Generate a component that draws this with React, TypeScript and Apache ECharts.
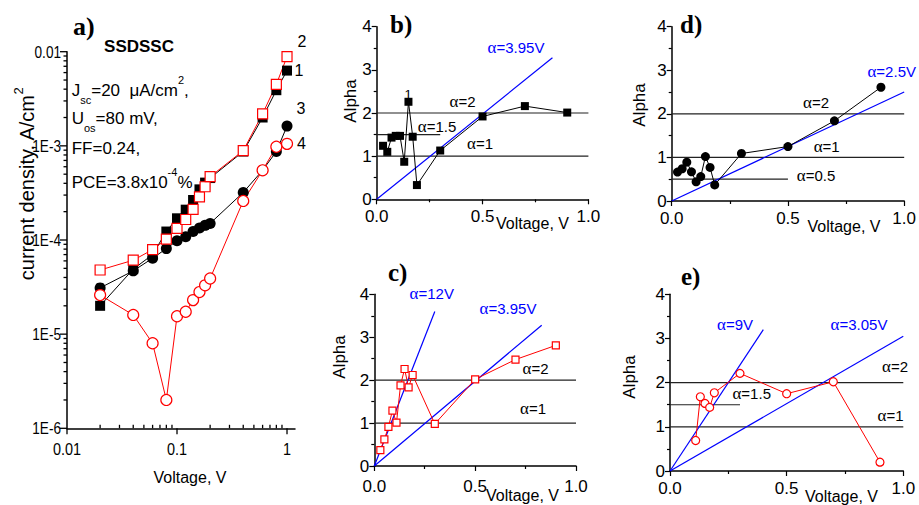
import React, { useEffect, useRef } from "react";
import * as echarts from "echarts";

// ---------- Panel a: J-V curves (log-log) ----------
const voltA = [0.02, 0.04, 0.06, 0.08, 0.1, 0.12, 0.14, 0.16, 0.18, 0.2, 0.4, 0.6, 0.8, 1.0];
const curve1 = [2.0e-5, 4.9e-5, 7.0e-5, 1.23e-4, 1.7e-4, 2.1e-4, 2.66e-4, 3.45e-4, 4.07e-4, 4.55e-4, 8.7e-4, 2.0e-3, 3.9e-3, 6.3e-3];
const curve2 = [4.8e-5, 6.1e-5, 7.9e-5, 1.02e-4, 1.33e-4, 1.65e-4, 2.12e-4, 2.87e-4, 3.68e-4, 4.7e-4, 8.9e-4, 2.19e-3, 4.5e-3, 8.85e-3];
const curve3 = [3.1e-5, 4.7e-5, 6.4e-5, 8.1e-5, 9.8e-5, 1.08e-4, 1.23e-4, 1.34e-4, 1.43e-4, 1.5e-4, 3.2e-4, 5.5e-4, 8.7e-4, 1.62e-3];
const curve4 = [2.6e-5, 1.6e-5, 8.0e-6, 2.0e-6, 1.55e-5, 1.73e-5, 2.3e-5, 2.8e-5, 3.3e-5, 3.9e-5, 2.6e-4, 5.5e-4, 9.8e-4, 1.05e-3];

const xMajorA = [0.01, 0.1, 1];
const xMajorLabelsA = ["0.01", "0.1", "1"];
const xMinorA = [0.02, 0.03, 0.04, 0.05, 0.06, 0.07, 0.08, 0.09, 0.2, 0.3, 0.4, 0.5, 0.6, 0.7, 0.8, 0.9];
const yMajorA = [1e-6, 1e-5, 1e-4, 1e-3, 1e-2];
const yMajorLabelsA = ["1E-6", "1E-5", "1E-4", "1E-3", "0.01"];
const yDecadesA = [1e-6, 1e-5, 1e-4, 1e-3];
const yMinorSteps = [2, 3, 4, 5, 6, 7, 8, 9];
const xRangeA = [0.01, 1.182];
const yRangeA = [1e-6, 0.01];

// ---------- Panels b-e: Alpha vs Voltage ----------
const voltBC = [0.03, 0.05, 0.07, 0.09, 0.11, 0.13, 0.15, 0.17, 0.19, 0.3, 0.5, 0.7, 0.9];
const alphaB = [1.24, 1.1, 1.43, 1.47, 1.47, 0.87, 2.26, 1.45, 0.33, 1.13, 1.92, 2.16, 2.01];
const alphaC = [0.37, 0.62, 0.91, 1.29, 1.01, 1.88, 2.26, 1.83, 2.12, 0.98, 2.02, 2.48, 2.81];
const voltD = [0.025, 0.045, 0.065, 0.085, 0.105, 0.125, 0.145, 0.165, 0.185, 0.3, 0.5, 0.7, 0.9];
const alphaD = [0.665, 0.74, 0.89, 0.67, 0.44, 0.56, 1.02, 0.77, 0.37, 1.09, 1.25, 1.84, 2.61];
const voltE = [0.11, 0.13, 0.15, 0.17, 0.19, 0.3, 0.5, 0.7, 0.9];
const alphaE = [0.69, 1.68, 1.53, 1.44, 1.77, 2.21, 1.75, 2.02, 0.2];

// linear fits (alpha = k*V) drawn as segments [V, alpha]
const fitB = [[0, 0], [0.83, 3.28]];
const fitC1 = [[0, 0], [0.3, 3.6]];
const fitC2 = [[0, 0], [0.83, 3.28]];
const fitD = [[0, 0], [1.0, 2.5]];
const fitE1 = [[0, 0], [0.4, 3.2]];
const fitE2 = [[0, 0], [1.0, 3.05]];

// horizontal alpha levels: [alpha, V end]
const levelsB = [[2, 1.0], [1, 1.0], [1.5, 0.3]];
const levelsC = [[2, 1.0], [1, 1.0]];
const levelsD = [[2, 1.0], [1, 1.0], [0.5, 0.5]];
const levelsE = [[2, 1.0], [1, 1.0], [1.5, 0.3]];

const FONT = "'Liberation Sans', Arial, Helvetica, sans-serif";
const SERIF = "'Liberation Serif', 'Times New Roman', serif";
const RED = "#ff0000";
const BLUE = "#0000ff";

const GRID_A = { left: 67, top: 51.7, width: 228, height: 376.6 };

const pairs = (xs: number[], ys: number[]) => xs.map((x, i) => [x, ys[i]]);

function txt(x: number, y: number, text: string, size: number, o: any = {}) {
  return {
    type: "text",
    x,
    y,
    rotation: o.rotation || 0,
    scaleX: o.scaleX || 1,
    z: 100,
    style: {
      text,
      fill: o.color || "#000",
      fontSize: size,
      fontFamily: o.family || FONT,
      fontWeight: o.weight || "normal",
      align: o.align || "center",
      verticalAlign: "middle",
      rich: o.rich,
    },
  };
}

function alphaLabel(x: number, y: number, rest: string, color = "#000") {
  return txt(x, y, `{g|α}{m|${rest}}`, 15, {
    color,
    rich: {
      g: { fontFamily: SERIF, fontSize: 17, fill: color },
      m: { fontFamily: FONT, fontSize: 15, fill: color },
    },
  });
}

const annotRich = {
  m: { fontFamily: FONT, fontSize: 17, fill: "#000", lineHeight: 31, verticalAlign: "middle" },
  sub: { fontFamily: FONT, fontSize: 11, fill: "#000", lineHeight: 9, verticalAlign: "bottom" },
  sup: { fontFamily: FONT, fontSize: 11, fill: "#000", lineHeight: 20, verticalAlign: "top" },
  sup2: { fontFamily: FONT, fontSize: 11, fill: "#000", lineHeight: 14, verticalAlign: "top" },
};

function valueAxisX(gridIndex: number, margin: number) {
  return {
    type: "value",
    gridIndex,
    min: 0,
    max: 1,
    interval: 0.5,
    axisLine: { show: true, lineStyle: { color: "#000", width: 1.5 } },
    axisTick: { show: true, length: 5, lineStyle: { color: "#000", width: 1.2 } },
    minorTick: { show: true, splitNumber: 2, length: 3, lineStyle: { color: "#000", width: 1.2 } },
    axisLabel: { color: "#000", fontSize: 17, fontFamily: FONT, margin, formatter: (v: number) => v.toFixed(1) },
    splitLine: { show: false },
  };
}

function valueAxisY(gridIndex: number) {
  return {
    type: "value",
    gridIndex,
    min: 0,
    max: 4,
    interval: 1,
    axisLine: { show: true, lineStyle: { color: "#000", width: 1.5 } },
    axisTick: { show: true, length: 5, lineStyle: { color: "#000", width: 1.2 } },
    minorTick: { show: true, splitNumber: 2, length: 3, lineStyle: { color: "#000", width: 1.2 } },
    axisLabel: { color: "#000", fontSize: 17, fontFamily: FONT, margin: 5 },
    splitLine: { show: false },
  };
}

function levelSeries(idx: number, levels: number[][]) {
  return levels.map((l) => ({
    type: "line",
    xAxisIndex: idx,
    yAxisIndex: idx,
    data: [[0, l[0]], [l[1], l[0]]],
    symbol: "none",
    lineStyle: { color: "#222", width: 1.2 },
    silent: true,
    z: 1,
  }));
}

function fitSeries(idx: number, fit: number[][]) {
  return {
    type: "line",
    xAxisIndex: idx,
    yAxisIndex: idx,
    data: fit,
    symbol: "none",
    lineStyle: { color: BLUE, width: 1.2 },
    silent: true,
    z: 2,
  };
}

function dataSeries(idx: number, data: number[][], symbol: string, size: number, filled: boolean, color: string) {
  return {
    type: "line",
    xAxisIndex: idx,
    yAxisIndex: idx,
    data,
    symbol,
    symbolSize: size,
    showSymbol: true,
    lineStyle: { color, width: 1 },
    itemStyle: filled ? { color } : { color: "#fff", borderColor: color, borderWidth: 1.2 },
    z: 3,
  };
}

export default function App() {
  const ref = useRef<HTMLDivElement>(null);
  useEffect(() => {
    if (!ref.current) return;
    const chart = echarts.init(ref.current, null, { renderer: "svg" });
    const yMinA = yMajorA[0];
    const xMinA = xMajorA[0];
    const yMinorA: number[] = [];
    yDecadesA.forEach((d) => yMinorSteps.forEach((m) => yMinorA.push(m * d)));

    const option: any = {
      animation: false,
      backgroundColor: "#fff",
      textStyle: { fontFamily: FONT },
      grid: [
        GRID_A,
        { left: 376.7, top: 26.7, width: 211.7, height: 172.6 },
        { left: 374.3, top: 294.3, width: 201.7, height: 171.7 },
        { left: 671.7, top: 26.7, width: 235, height: 174.3 },
        { left: 670, top: 294.3, width: 233.3, height: 176.7 },
      ],
      xAxis: [
        {
          type: "log",
          logBase: 10,
          gridIndex: 0,
          min: xRangeA[0],
          max: xRangeA[1],
          axisLine: { show: true, lineStyle: { color: "#000", width: 1.5 } },
          axisTick: { show: false },
          minorTick: { show: false },
          splitLine: { show: false },
          axisLabel: { show: false },
        },
        valueAxisX(1, 9),
        valueAxisX(2, 12),
        valueAxisX(3, 9),
        valueAxisX(4, 9),
      ],
      yAxis: [
        {
          type: "log",
          logBase: 10,
          gridIndex: 0,
          min: yRangeA[0],
          max: yRangeA[1],
          axisLine: { show: true, lineStyle: { color: "#000", width: 1.5 } },
          axisTick: { show: false },
          minorTick: { show: false },
          splitLine: { show: false },
          axisLabel: { show: false },
        },
        valueAxisY(1),
        valueAxisY(2),
        valueAxisY(3),
        valueAxisY(4),
      ],
      series: [
        // panel a curves
        dataSeries(0, pairs(voltA, curve1), "rect", 10, true, "#000"),
        dataSeries(0, pairs(voltA, curve3), "circle", 11, true, "#000"),
        dataSeries(0, pairs(voltA, curve2), "rect", 10, false, RED),
        dataSeries(0, pairs(voltA, curve4), "circle", 11, false, RED),
        // panel b
        ...levelSeries(1, levelsB),
        fitSeries(1, fitB),
        dataSeries(1, pairs(voltBC, alphaB), "rect", 8, true, "#000"),
        // panel c
        ...levelSeries(2, levelsC),
        fitSeries(2, fitC1),
        fitSeries(2, fitC2),
        dataSeries(2, pairs(voltBC, alphaC), "rect", 7, false, RED),
        // panel d
        ...levelSeries(3, levelsD),
        fitSeries(3, fitD),
        dataSeries(3, pairs(voltD, alphaD), "circle", 9, true, "#000"),
        // panel e
        ...levelSeries(4, levelsE),
        fitSeries(4, fitE1),
        fitSeries(4, fitE2),
        dataSeries(4, pairs(voltE, alphaE), "circle", 8, false, RED),
      ],
    };
    chart.setOption(option);

    // Map a (V, J) pair of panel a to pixels through the chart's own log axes.
    const inGrid = (p: any) =>
      p && isFinite(p[0]) && isFinite(p[1]) &&
      p[0] > GRID_A.left - 2 && p[0] < GRID_A.left + GRID_A.width + 2 &&
      p[1] > GRID_A.top - 2 && p[1] < GRID_A.top + GRID_A.height + 2;
    const probeVal: [number, number] = [0.1, 1e-4];
    let mode = 0;
    let probe: any = null;
    try { probe = chart.convertToPixel({ gridIndex: 0 }, probeVal); } catch (e) { probe = null; }
    if (inGrid(probe)) mode = 1;
    else {
      try { probe = chart.convertToPixel({ gridIndex: 0 }, [Math.log10(probeVal[0]), Math.log10(probeVal[1])]); } catch (e) { probe = null; }
      if (inGrid(probe)) mode = 2;
    }
    const lx0 = Math.log10(xRangeA[0]), lx1 = Math.log10(xRangeA[1]);
    const ly0 = Math.log10(yRangeA[0]), ly1 = Math.log10(yRangeA[1]);
    const toPx = (v: [number, number]): number[] => {
      if (mode === 1) return chart.convertToPixel({ gridIndex: 0 }, v) as number[];
      if (mode === 2) return chart.convertToPixel({ gridIndex: 0 }, [Math.log10(v[0]), Math.log10(v[1])]) as number[];
      return [
        GRID_A.left + (GRID_A.width * (Math.log10(v[0]) - lx0)) / (lx1 - lx0),
        GRID_A.top + GRID_A.height - (GRID_A.height * (Math.log10(v[1]) - ly0)) / (ly1 - ly0),
      ];
    };

    // tick marks as thin rectangles
    const xTick = (v: number, len: number) => {
      const p = toPx([v, yMinA]);
      return {
        type: "rect",
        z: 50,
        shape: { x: p[0] - 0.65, y: len > 0 ? p[1] : p[1] + len, width: 1.3, height: Math.abs(len) },
        style: { fill: "#000" },
      };
    };
    const yTick = (v: number, len: number) => {
      const p = toPx([xMinA, v]);
      return {
        type: "rect",
        z: 50,
        shape: { x: p[0] - len, y: p[1] - 0.65, width: len, height: 1.3 },
        style: { fill: "#000" },
      };
    };
    const ticks = [
      ...xMajorA.map((v) => xTick(v, 6)),
      ...xMinorA.map((v) => xTick(v, -3.5)),
      ...yMajorA.map((v) => yTick(v, 7)),
      ...yMinorA.map((v) => yTick(v, 3.5)),
    ];
    const tickLabels = [
      ...xMajorA.map((v, i) => {
        const p = toPx([v, yMinA]);
        return txt(p[0], p[1] + 21, xMajorLabelsA[i], 17, { scaleX: 0.85 });
      }),
      ...yMajorA.map((v, i) => {
        const p = toPx([xMinA, v]);
        return txt(p[0] - 6, p[1], yMajorLabelsA[i], 17, { scaleX: 0.8, align: "right" });
      }),
    ];

    const texts = [
      // panel a
      txt(73, 26, "a)", 26, { family: SERIF, weight: "bold", align: "left" }),
      txt(139, 46, "SSDSSC", 17, { weight: "bold" }),
      txt(71.7, 90, "{m|J}{sub|sc}{m|=20  μA/cm}{sup|2}{m|,}", 17, { align: "left", rich: annotRich }),
      txt(71.7, 118, "{m|U}{sub|os}{m|=80 mV,}", 17, { align: "left", rich: annotRich }),
      txt(71.7, 148, "{m|FF=0.24,}", 17, { align: "left", rich: annotRich }),
      txt(71.7, 182, "{m|PCE=3.8x10}{sup2|-4}{m|%}", 17, { align: "left", rich: annotRich }),
      txt(302, 41, "2", 16),
      txt(299, 70.5, "1", 16),
      txt(301, 108.5, "3", 16),
      txt(301.5, 143, "4", 16),
      txt(27, 184, "{m|current density, A/cm}{s|2}", 20, {
        rotation: Math.PI / 2,
        rich: {
          m: { fontFamily: FONT, fontSize: 20, fill: "#000", lineHeight: 30, verticalAlign: "middle" },
          s: { fontFamily: FONT, fontSize: 13, fill: "#000", lineHeight: 12, verticalAlign: "top" },
        },
      }),
      txt(190, 477.5, "Voltage, V", 16),
      // panel b
      txt(390, 24, "b)", 25, { family: SERIF, weight: "bold", align: "left" }),
      txt(350, 101, "Alpha", 17, { rotation: Math.PI / 2 }),
      txt(532.5, 223, "Voltage, V", 16),
      txt(408, 94, "1", 13),
      alphaLabel(516, 47.5, "=3.95V", BLUE),
      alphaLabel(462.5, 101.7, "=2"),
      alphaLabel(437, 126.7, "=1.5"),
      alphaLabel(480, 143, "=1"),
      // panel c
      txt(388, 272, "c)", 25, { family: SERIF, weight: "bold", align: "left" }),
      txt(339, 357, "Alpha", 17, { rotation: Math.PI / 2 }),
      txt(522.5, 495, "Voltage, V", 16),
      alphaLabel(431.7, 293, "=12V", BLUE),
      alphaLabel(508, 308, "=3.95V", BLUE),
      alphaLabel(535.5, 368, "=2"),
      alphaLabel(533, 408, "=1"),
      // panel d
      txt(680, 24, "d)", 25, { family: SERIF, weight: "bold", align: "left" }),
      txt(639, 105, "Alpha", 17, { rotation: Math.PI / 2 }),
      txt(844, 226.5, "Voltage, V", 16),
      alphaLabel(891.7, 71.7, "=2.5V", BLUE),
      alphaLabel(816, 102, "=2"),
      alphaLabel(826.7, 146.7, "=1"),
      alphaLabel(816, 175, "=0.5"),
      // panel e
      txt(681, 276, "e)", 25, { family: SERIF, weight: "bold", align: "left" }),
      txt(629, 377, "Alpha", 17, { rotation: Math.PI / 2 }),
      txt(841.5, 496, "Voltage, V", 16),
      alphaLabel(735, 324.5, "=9V", BLUE),
      alphaLabel(859, 324.5, "=3.05V", BLUE),
      alphaLabel(895, 366.7, "=2"),
      alphaLabel(751.7, 393, "=1.5"),
      alphaLabel(890.5, 415, "=1"),
    ];

    chart.setOption({ graphic: [...ticks, ...tickLabels, ...texts] });
    return () => chart.dispose();
  }, []);
  return (
    <div
      ref={ref}
      style={{ position: "absolute", left: 0, top: 0, width: 919, height: 505, background: "#fff" }}
    />
  );
}
